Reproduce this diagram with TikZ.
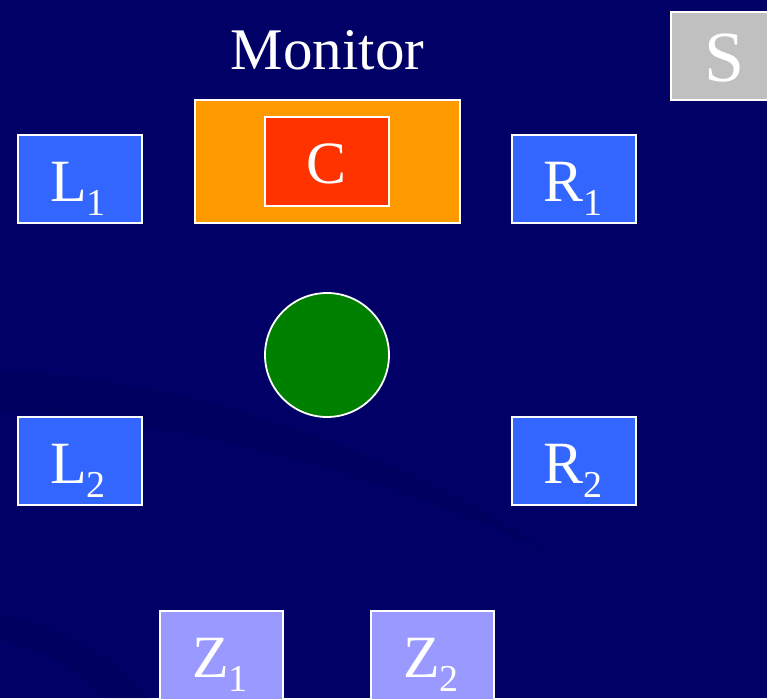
\documentclass[tikz,border=0pt]{standalone}
\usepackage{fontspec}
\setmainfont{Liberation Serif}
\definecolor{bgnavy}{HTML}{000066}
\definecolor{bgdark}{HTML}{00005A}
\definecolor{boxblue}{HTML}{3366FF}
\definecolor{boxlilac}{HTML}{9999FF}
\definecolor{boxgrey}{HTML}{C0C0C0}
\definecolor{boxorange}{HTML}{FF9900}
\definecolor{boxred}{HTML}{FF3300}
\definecolor{ballgreen}{HTML}{008000}
\newcommand{\lbl}[2]{#1\raisebox{-14pt}{\fontsize{38}{38}\selectfont #2}}
\begin{document}
\begin{tikzpicture}[x=1pt,y=-1pt,
  every node/.style={text=white,font=\fontsize{60}{60}\selectfont},
  lbltext/.style={anchor=base,inner sep=0pt},
  boxbase/.style={draw=white,line width=1.8pt,inner sep=0pt,rectangle},
  bluebox/.style={boxbase,fill=boxblue,minimum width=124pt,minimum height=88pt},
  lilacbox/.style={boxbase,fill=boxlilac,minimum width=123pt,minimum height=100pt},
  greybox/.style={boxbase,fill=boxgrey,minimum width=98pt,minimum height=88pt},
  ball/.style={circle,draw=white,line width=1.8pt,fill=ballgreen,minimum size=124pt,inner sep=0pt}]
\fill[bgnavy] (0,0) rectangle (767,698);
\useasboundingbox (0,0) rectangle (767,698);
% faint background swooshes
\fill[bgdark,opacity=0.45] (0,370) .. controls (200,380) and (420,460) .. (560,560) .. controls (430,490) and (200,420) .. (0,410) -- cycle;
\fill[bgdark,opacity=0.45] (0,615) .. controls (60,625) and (120,660) .. (150,698) -- (105,698) .. controls (80,672) and (40,648) .. (0,640) -- cycle;
% title
\node[lbltext,font=\fontsize{59}{59}\selectfont] (mon) at (327.5,70) {Monitor};
% monitor box and core
\node[boxbase,fill=boxorange,minimum width=265pt,minimum height=123pt] (monbox) at (327.5,161.5) {};
\node[boxbase,fill=boxred,minimum width=124pt,minimum height=89pt] (c) at (327,161.5) {};
\node[lbltext] (ctext) at (327,183) {C};
% S box
\node[greybox] (s) at (720,56) {};
\node[lbltext,font=\fontsize{72}{72}\selectfont] (stext) at (725,82) {S};
% side boxes
\node[bluebox] (l1) at (80,179) {};
\node[lbltext] (l1t) at (78,201) {\lbl{L}{1}};
\node[bluebox] (r1) at (574,179) {};
\node[lbltext] (r1t) at (572.5,201) {\lbl{R}{1}};
\node[bluebox] (l2) at (80,461) {};
\node[lbltext] (l2t) at (78,483) {\lbl{L}{2}};
\node[bluebox] (r2) at (574,461) {};
\node[lbltext] (r2t) at (572.5,483) {\lbl{R}{2}};
% ball
\node[ball] (ball) at (327,355) {};
% bottom boxes
\node[lilacbox] (z1) at (221.5,661) {};
\node[lbltext] (z1t) at (220,677) {\lbl{Z}{1}};
\node[lilacbox] (z2) at (432.5,661) {};
\node[lbltext] (z2t) at (431,677) {\lbl{Z}{2}};
\end{tikzpicture}
\end{document}
